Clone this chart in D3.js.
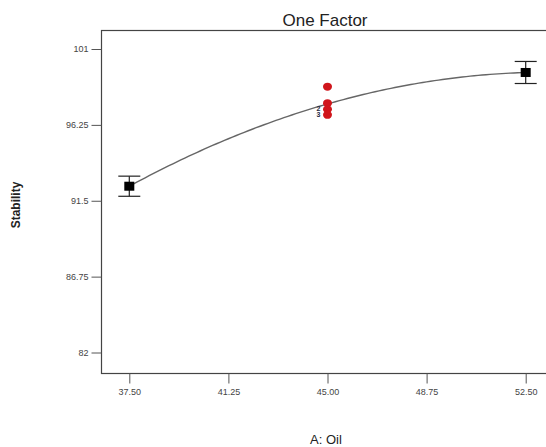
<!DOCTYPE html>
<html>
<head>
<meta charset="utf-8">
<script src="https://cdn.jsdelivr.net/npm/d3@7"></script>
<style>
  html, body { margin: 0; padding: 0; background: #fff; }
  svg { display: block; }
  text { font-family: "Liberation Sans", Arial, sans-serif; }
</style>
</head>
<body>
<svg id="chart" width="546" height="447"></svg>
<script>
// One-factor response plot: Stability vs A: Oil
const title = "One Factor";
const xLabel = "A: Oil";
const yLabel = "Stability";

const xTicks = [37.5, 41.25, 45.0, 48.75, 52.5];
const yTicks = [82, 86.75, 91.5, 96.25, 101];

// factor-level means with error half-widths (black squares)
const levelX = [37.5, 52.5];
const levelMean = [92.41, 99.53];
const levelErr = [0.63, 0.69];

// model prediction at low / center / high levels (quadratic fit)
const fitX = [37.5, 45.0, 52.5];
const fitY = [92.41, 97.56, 99.53];

// center-point observations (red) and replicate counts
const centerX = [45, 45, 45, 45];
const centerY = [98.64, 97.61, 97.23, 96.88];
const countY = [97.30, 96.90];
const countLabel = ["2", "3"];

const svg = d3.select("#chart");
const frame = { left: 101.5, top: 30.5, right: 547, bottom: 373.5 };

const x = d3.scaleLinear().domain([37.5, 52.5]).range([129.3, 525.7]);
const y = d3.scaleLinear().domain([82, 101]).range([352.5, 49]);

// plot frame
svg.append("rect")
  .attr("x", frame.left).attr("y", frame.top)
  .attr("width", frame.right - frame.left)
  .attr("height", frame.bottom - frame.top)
  .attr("fill", "none").attr("stroke", "#444").attr("stroke-width", 1.2);

// axes
const yAxis = d3.axisLeft(y).tickValues(yTicks).tickSize(10).tickPadding(5)
  .tickFormat(d => String(d));
const xAxis = d3.axisBottom(x).tickValues(xTicks).tickSize(10).tickPadding(5)
  .tickFormat(d3.format(".2f"));

const gy = svg.append("g").attr("transform", `translate(${frame.left},0)`).call(yAxis);
const gx = svg.append("g").attr("transform", `translate(0,${frame.bottom})`).call(xAxis);
[gy, gx].forEach(g => {
  g.select(".domain").remove();
  g.selectAll(".tick line").attr("stroke", "#555").attr("stroke-width", 1);
  g.selectAll(".tick text").attr("fill", "#444").style("font-size", "9px");
});
gy.selectAll(".tick text").attr("x", -13);

// quadratic model curve through the fitted values
const t = v => (v - fitX[1]) / (fitX[2] - fitX[1]);
const qa = fitY[1];
const qb = (fitY[2] - fitY[0]) / 2;
const qc = (fitY[2] + fitY[0]) / 2 - fitY[1];
const model = v => qa + qb * t(v) + qc * t(v) * t(v);
const curve = d3.range(0, 101).map(i => {
  const v = levelX[0] + (levelX[1] - levelX[0]) * i / 100;
  return [x(v), y(model(v))];
});
svg.append("path")
  .attr("d", d3.line()(curve))
  .attr("fill", "none").attr("stroke", "#666").attr("stroke-width", 1.4);

// error bars and level means
const capW = 11;
levelX.forEach((lx, i) => {
  const cx = x(lx);
  const hi = y(levelMean[i] + levelErr[i]);
  const lo = y(levelMean[i] - levelErr[i]);
  const g = svg.append("g").attr("stroke", "#222").attr("stroke-width", 1.2);
  g.append("line").attr("x1", cx).attr("x2", cx).attr("y1", hi).attr("y2", lo);
  g.append("line").attr("x1", cx - capW).attr("x2", cx + capW).attr("y1", hi).attr("y2", hi);
  g.append("line").attr("x1", cx - capW).attr("x2", cx + capW).attr("y1", lo).attr("y2", lo);
  svg.append("rect")
    .attr("x", cx - 5).attr("y", y(levelMean[i]) - 4.5)
    .attr("width", 10).attr("height", 9)
    .attr("fill", "#000");
});

// center-point observations
svg.selectAll("ellipse.obs")
  .data(centerY)
  .join("ellipse")
  .attr("class", "obs")
  .attr("cx", (d, i) => x(centerX[i]))
  .attr("cy", d => y(d))
  .attr("rx", 4.5).attr("ry", 4)
  .attr("fill", "#d0161c");

svg.selectAll("text.count")
  .data(countY)
  .join("text")
  .attr("class", "count")
  .attr("x", x(45) - 9)
  .attr("y", d => y(d) + 3)
  .attr("text-anchor", "middle")
  .attr("fill", "#1e2a40")
  .style("font-size", "7px")
  .style("font-weight", "bold")
  .text((d, i) => countLabel[i]);

// titles
svg.append("text")
  .attr("x", 325).attr("y", 26)
  .attr("text-anchor", "middle")
  .attr("fill", "#222")
  .style("font-size", "17px")
  .text(title);

svg.append("text")
  .attr("x", 326).attr("y", 444)
  .attr("text-anchor", "middle")
  .attr("fill", "#222")
  .style("font-size", "13px")
  .text(xLabel);

svg.append("text")
  .attr("transform", "translate(20,205) rotate(-90)")
  .attr("text-anchor", "middle")
  .attr("fill", "#222")
  .style("font-size", "12px")
  .style("font-weight", "bold")
  .text(yLabel);
</script>
</body>
</html>
